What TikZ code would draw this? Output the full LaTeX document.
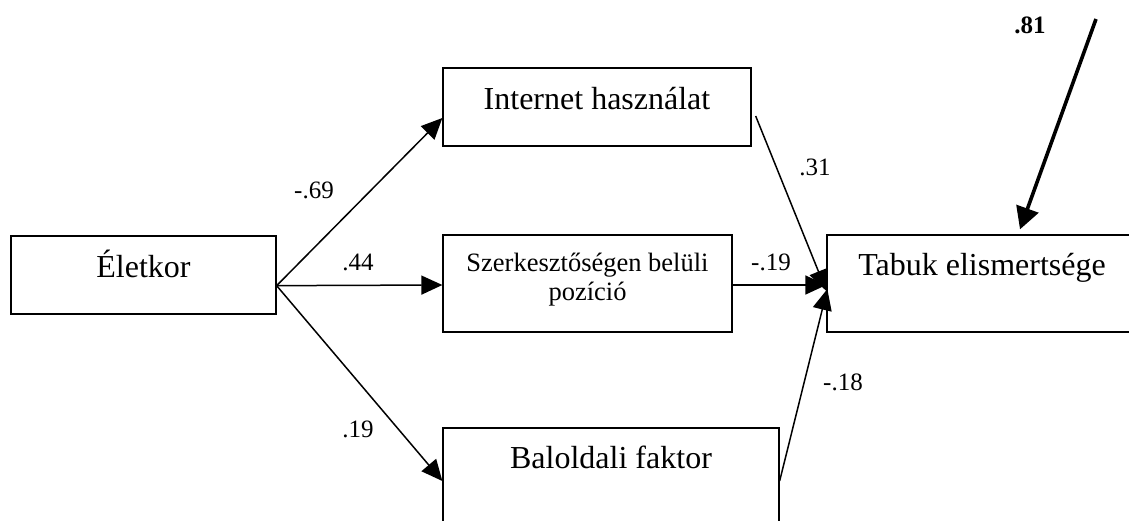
\documentclass[tikz,border=0pt]{standalone}
\usepackage{fontspec}
\setmainfont{Liberation Serif}
\usetikzlibrary{arrows.meta,calc}
\tikzset{
  box/.style={draw, line width=1.3pt, inner sep=0pt},
  big/.style={font=\fontsize{32}{36}\selectfont, inner sep=0pt, anchor=base},
  mid/.style={font=\fontsize{26.5}{30}\selectfont, inner sep=0pt, anchor=base},
  coef/.style={font=\fontsize{25}{28}\selectfont, inner sep=0pt},
  path/.style={line width=1.5pt, -{Triangle[length=21pt,width=19pt]}},
  thickpath/.style={line width=3.6pt, -{Triangle[length=22pt,width=23pt]}}
}
\begin{document}
\begin{tikzpicture}[x=1pt,y=-1pt]
\useasboundingbox (0,0) rectangle (1129,520);
% boxes
\node[box, minimum width=265pt, minimum height=78pt] (eletkor) at (143.5,275) {};
\node[box, minimum width=308pt, minimum height=78pt] (internet) at (597,107) {};
\node[box, minimum width=289pt, minimum height=97pt] (szerk) at (587.5,283.5) {};
\node[box, minimum width=310pt, minimum height=97pt] (tabuk) at (982,283.5) {};
\node[box, minimum width=336pt, minimum height=102pt] (balol) at (611,479) {};
% texts
\node[big] (teletkor) at (143.5,277) {Életkor};
\node[big] (tinternet) at (597,109) {Internet használat};
\node[mid] (tszerk1) at (587.5,271) {Szerkesztőségen belüli};
\node[mid] (tszerk2) at (587.5,300) {pozíció};
\node[big] (ttabuk) at (982,275) {Tabuk elismertsége};
\node[big] (tbalol) at (611,468) {Baloldali faktor};
% connector ends
\coordinate (eout) at ([yshift=29pt]eletkor.south east);
\coordinate (iin) at ([yshift=-11pt]internet.west);
\coordinate (sin) at ([yshift=-1.5pt]szerk.west);
\coordinate (bin) at ([yshift=-2pt]balol.west);
\coordinate (iout) at ([xshift=4pt,yshift=-9pt]internet.east);
\coordinate (sout) at ([yshift=-1.5pt]szerk.east);
\coordinate (bout) at ([yshift=-2pt]balol.east);
\coordinate (tin1) at ([yshift=-7.5pt]tabuk.west);
\coordinate (tin2) at ([yshift=-1.5pt]tabuk.west);
\coordinate (tin3) at ([xshift=1pt,yshift=-5.5pt]tabuk.west);
\coordinate (err) at (1096,19);
\coordinate (tin4) at ([xshift=38pt,yshift=5pt]tabuk.north);
% connectors
\draw[path] (eout) -- (iin);
\draw[path] (eout) -- (sin);
\draw[path] (eout) -- (bin);
\draw[path] (iout) -- (tin1);
\draw[path] (sout) -- (tin2);
\draw[path] (bout) -- (tin3);
\draw[thickpath] (err) -- (tin4);
% coefficients
\node[coef] (c1) at (314,190) {-.69};
\node[coef] (c2) at (358,262) {.44};
\node[coef] (c3) at (358,429) {.19};
\node[coef] (c4) at (815,167) {.31};
\node[coef] (c5) at (771,262) {-.19};
\node[coef] (c6) at (843,382) {-.18};
\node[coef, font=\fontsize{25}{28}\selectfont\bfseries] (c7) at (1030,25) {.81};
\end{tikzpicture}
\end{document}
